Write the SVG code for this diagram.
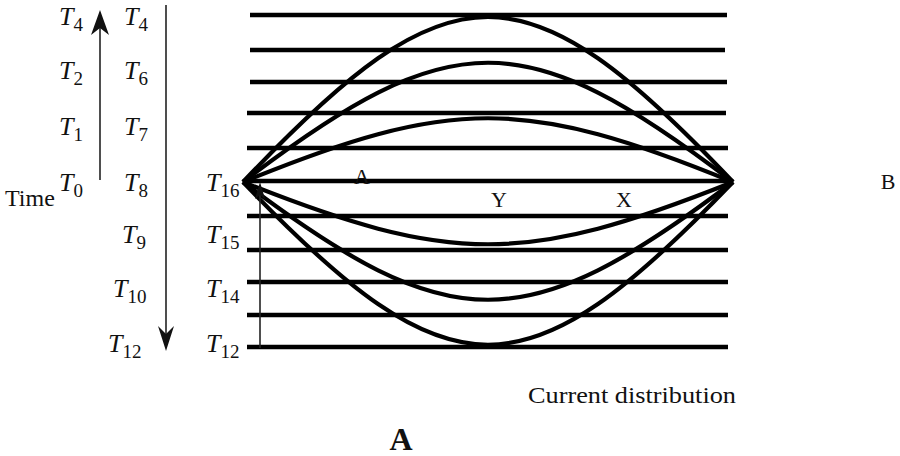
<svg xmlns="http://www.w3.org/2000/svg" width="900" height="456" viewBox="0 0 900 456">
<style>
.t{font-family:"Liberation Serif","Times New Roman",serif;fill:#111;}
.it{font-style:italic;font-size:26px;}
.sb{font-style:normal;font-size:19px;}
.lbl{font-size:22px;}
.hl{stroke:#000;stroke-width:4.5;fill:none;}
.arc{stroke:#000;stroke-width:4.2;fill:none;}
.ax{stroke:#222;stroke-width:1.6;fill:none;}
.head{fill:#111;stroke:none;}
</style>
<rect width="900" height="456" fill="#fff"/>
<g id="lines">
<line class="hl" x1="250" y1="15" x2="727" y2="15"/>
<line class="hl" x1="250" y1="50" x2="725" y2="50"/>
<line class="hl" x1="250" y1="82" x2="727" y2="82"/>
<line class="hl" x1="247" y1="113" x2="726" y2="113"/>
<line class="hl" x1="247" y1="148" x2="728" y2="148"/>
<line class="hl" x1="245" y1="181" x2="731" y2="181"/>
<line class="hl" x1="247" y1="216" x2="728" y2="216"/>
<line class="hl" x1="247" y1="250" x2="728" y2="250"/>
<line class="hl" x1="247" y1="282" x2="728" y2="282"/>
<line class="hl" x1="247" y1="315" x2="728" y2="315"/>
<line class="hl" x1="247" y1="347" x2="728" y2="347"/>
</g>
<g id="arcs">
<path class="arc" d="M243,182 C451,-38 525,-38 733,182"/>
<path class="arc" d="M243,182 C451,23 525,23 733,182"/>
<path class="arc" d="M243,182 C451,97 525,97 733,182"/>
<path class="arc" d="M243,182 C451,265 525,265 733,182"/>
<path class="arc" d="M243,182 C451,339 525,339 733,182"/>
<path class="arc" d="M243,182 C451,399 525,399 733,182"/>
</g>
<g id="axes">
<line class="ax" x1="100" y1="180" x2="100" y2="20"/>
<path class="head" d="M100,10 L109,35 L100,28 L91,35 Z"/>
<line class="ax" x1="166" y1="5" x2="166" y2="340"/>
<path class="head" d="M166,351 L174,326 L166,334 L158,326 Z"/>
<line class="ax" x1="260" y1="348" x2="260" y2="192"/>
<path class="head" d="M260,182 L265,199 L260,195 L255,199 Z"/>
</g>
<g id="labels-col1">
<text class="t it" x="59" y="25">T<tspan class="sb" dy="6">4</tspan></text>
<text class="t it" x="59" y="79">T<tspan class="sb" dy="6">2</tspan></text>
<text class="t it" x="59" y="135">T<tspan class="sb" dy="6">1</tspan></text>
<text class="t it" x="59" y="191">T<tspan class="sb" dy="6">0</tspan></text>
<text class="t" x="5" y="206" font-size="24">Time</text>
</g>
<g id="labels-col2">
<text class="t it" x="124" y="25">T<tspan class="sb" dy="6">4</tspan></text>
<text class="t it" x="124" y="79">T<tspan class="sb" dy="6">6</tspan></text>
<text class="t it" x="124" y="135">T<tspan class="sb" dy="6">7</tspan></text>
<text class="t it" x="124" y="191">T<tspan class="sb" dy="6">8</tspan></text>
<text class="t it" x="122" y="243">T<tspan class="sb" dy="6">9</tspan></text>
<text class="t it" x="113" y="297">T<tspan class="sb" dy="6">10</tspan></text>
<text class="t it" x="108" y="352">T<tspan class="sb" dy="6">12</tspan></text>
</g>
<g id="labels-col3">
<text class="t it" x="206" y="191">T<tspan class="sb" dy="6">16</tspan></text>
<text class="t it" x="206" y="243">T<tspan class="sb" dy="6">15</tspan></text>
<text class="t it" x="206" y="297">T<tspan class="sb" dy="6">14</tspan></text>
<text class="t it" x="206" y="352">T<tspan class="sb" dy="6">12</tspan></text>
</g>
<g id="point-labels">
<text class="t lbl" x="362" y="184" text-anchor="middle">A</text>
<text class="t lbl" x="499" y="207" text-anchor="middle">Y</text>
<text class="t lbl" x="624" y="207" text-anchor="middle">X</text>
<text class="t lbl" x="888" y="189" text-anchor="middle">B</text>
</g>
<g id="captions">
<text class="t" x="528" y="403" font-size="24" textLength="208" lengthAdjust="spacingAndGlyphs">Current distribution</text>
<text class="t" x="401" y="450" font-size="32" font-weight="bold" text-anchor="middle">A</text>
</g>
</svg>
